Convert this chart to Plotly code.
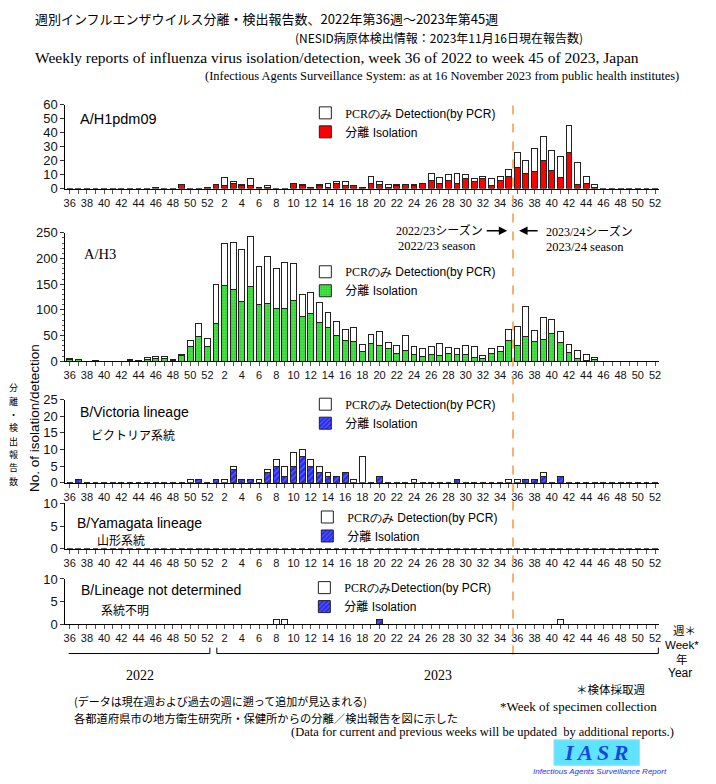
import plotly.graph_objects as go

W, H = 716, 784

# ---------------- categories ----------------
weeks_2022 = list(range(36, 53))
weeks_2023 = list(range(1, 53))
week_labels = [str(w) for w in weeks_2022 + weeks_2023]

# ---------------- data (reports per week) ----------------
# A/H1pdm09
h1_iso_2022 = [0, 0, 0, 0, 0, 0, 0, 0, 0, 0, 0, 0, 0, 3, 0, 0, 1]
h1_pcr_2022 = [0, 0, 0, 0, 0, 0, 0, 0, 0, 0, 1, 0, 0, 0, 0, 0, 0]
h1_iso_2023 = [3, 2, 4, 2, 2, 1, 1, 0, 0, 4, 2, 1, 2, 1, 4, 2, 2, 1, 4, 3,
               1, 2, 3, 2, 4, 6, 4, 6, 4, 7, 5, 7, 2, 6, 9, 15, 11, 12, 20, 13,
               8, 26, 3, 4, 1, 0, 0, 0, 0, 0, 0, 0]
h1_pcr_2023 = [0, 6, 1, 1, 5, 0, 1, 0, 0, 0, 1, 0, 1, 3, 1, 3, 0, 0, 5, 2,
               2, 1, 0, 1, 0, 5, 4, 4, 7, 3, 2, 2, 5, 3, 5, 11, 9, 17, 17, 14,
               15, 19, 16, 5, 2, 0, 0, 0, 0, 0, 0, 0]

# A/H3
h3_iso_2022 = [4, 4, 0, 1, 0, 0, 0, 2, 1, 3, 6, 6, 2, 12, 29, 48, 29]
h3_pcr_2022 = [1, 0, 0, 1, 0, 0, 0, 2, 1, 5, 4, 4, 2, 2, 12, 25, 15]
h3_iso_2023 = [74, 147, 139, 117, 145, 110, 112, 103, 102, 119,
               87, 92, 75, 66, 50, 40, 38, 19, 34, 31,
               25, 15, 21, 13, 10, 13, 11, 15, 13, 13,
               8, 6, 15, 18, 41, 31, 48, 38, 43, 54,
               36, 17, 6, 1, 3, 0, 0, 0, 0, 0, 0, 0]
h3_pcr_2023 = [75, 83, 93, 100, 97, 74, 91, 78, 90, 72,
               42, 42, 40, 28, 27, 21, 27, 14, 19, 27,
               11, 16, 29, 15, 14, 16, 23, 11, 12, 17,
               20, 5, 9, 11, 20, 36, 59, 22, 42, 28,
               21, 16, 15, 12, 5, 0, 0, 0, 0, 0, 0, 0]

# B/Victoria
vic_iso_2022 = [0, 1, 0, 0, 0, 0, 0, 0, 0, 0, 0, 0, 0, 0, 0, 1, 0]
vic_pcr_2022 = [0, 0, 0, 0, 0, 0, 0, 0, 0, 0, 0, 0, 0, 0, 1, 0, 0]
vic_iso_2023 = [1, 0, 4, 1, 1, 0, 3, 5, 2, 5, 8, 5, 3, 2, 2, 3, 0, 0, 0, 2,
                0, 0, 0, 0, 0, 0, 0, 0, 1, 0, 0, 0, 0, 0, 0, 0, 1, 1, 2, 0,
                2, 0, 0, 0, 0, 0, 0, 0, 0, 0, 0, 0]
vic_pcr_2023 = [0, 1, 1, 0, 0, 1, 1, 2, 3, 4, 2, 2, 2, 1, 0, 0, 1, 8, 0, 0,
                0, 0, 0, 1, 0, 0, 0, 0, 0, 0, 0, 0, 0, 0, 1, 1, 0, 0, 1, 0,
                0, 0, 0, 0, 0, 0, 0, 0, 0, 0, 0, 0]

# B/Yamagata
yam_iso_2022 = [0] * 17
yam_pcr_2022 = [0] * 17
yam_iso_2023 = [0] * 52
yam_pcr_2023 = [0] * 52

# B/Lineage not determined
nd_iso_2022 = [0] * 17
nd_pcr_2022 = [0] * 17
nd_iso_2023 = [0, 0, 0, 0, 0, 0, 0, 0, 0, 0, 0, 0, 0, 0, 0, 0, 0, 0, 0, 1,
               0, 0, 0, 0, 0, 0, 0, 0, 0, 0, 0, 0, 0, 0, 0, 0, 0, 0, 0, 0,
               0, 0, 0, 0, 0, 0, 0, 0, 0, 0, 0, 0]
nd_pcr_2023 = [0, 0, 0, 0, 0, 0, 0, 1, 1, 0, 0, 0, 0, 0, 0, 0, 0, 0, 0, 0,
               0, 0, 0, 0, 0, 0, 0, 0, 0, 0, 0, 0, 0, 0, 0, 0, 0, 0, 0, 0,
               1, 0, 0, 0, 0, 0, 0, 0, 0, 0, 0, 0]

# vertical Japanese axis title, one character per line
ytitle_jp = list("分離・検出報告数")

# ---------------- styling ----------------
SANS = "Liberation Sans, Noto Sans CJK JP, sans-serif"
SERIF = "Liberation Serif, Noto Sans CJK JP, serif"
JP = "Noto Sans CJK JP, sans-serif"
OUT = "#222222"
OFF = 8  # page body margin of the browser

xpos = list(range(len(week_labels)))
ticktext = [lab if i % 2 == 0 else "" for i, lab in enumerate(week_labels)]

def px_x(p):
    return (p - OFF) / W

def px_y(p):
    return 1 - (p - OFF) / H

X0_PX, X1_PX = 63.7, 661.0

pcr_lbl = '<span style="font-family:Liberation Serif">PCRのみ</span> Detection(by PCR)'
pcr_lbl2 = '<span style="font-family:Liberation Serif">PCRのみ</span>Detection(by PCR)'
blue = dict(color="#2a2af0", pattern=dict(shape="/", fgcolor="#9aa0ff", bgcolor="#2a2af0", size=4, solidity=0.3))

panels = [
    dict(iso=h1_iso_2022 + h1_iso_2023, pcr=h1_pcr_2022 + h1_pcr_2023,
         fill=dict(color="#ff0000"), zero=185, top=99.5, ymax=60, dtick=10, minor=None,
         leg=(305, 93), pcr_name=pcr_lbl, iso_name="分離 Isolation"),
    dict(iso=h3_iso_2022 + h3_iso_2023, pcr=h3_pcr_2022 + h3_pcr_2023,
         fill=dict(color="#44e844", pattern=dict(shape=".", fgcolor="#1f9a1f", bgcolor="#44e844", size=3, solidity=0.35)),
         zero=361, top=230, ymax=250, dtick=50, minor=10,
         leg=(305, 255), pcr_name=pcr_lbl, iso_name="分離 Isolation"),
    dict(iso=vic_iso_2022 + vic_iso_2023, pcr=vic_pcr_2022 + vic_pcr_2023,
         fill=blue, zero=485, top=400, ymax=25, dtick=5, minor=None,
         leg=(305, 390), pcr_name=pcr_lbl, iso_name="分離 Isolation"),
    dict(iso=yam_iso_2022 + yam_iso_2023, pcr=yam_pcr_2022 + yam_pcr_2023,
         fill=blue, zero=552, top=506, ymax=10, dtick=5, minor=None,
         leg=(307, 505), pcr_name=pcr_lbl, iso_name="分離 Isolation"),
    dict(iso=nd_iso_2022 + nd_iso_2023, pcr=nd_pcr_2022 + nd_pcr_2023,
         fill=blue, zero=629, top=583, ymax=10, dtick=5, minor=None,
         leg=(304, 577), pcr_name=pcr_lbl2, iso_name="分離 Isolation"),
]

fig = go.Figure()
layout = dict(
    width=W, height=H, margin=dict(l=0, r=0, t=0, b=0),
    paper_bgcolor="white", plot_bgcolor="rgba(0,0,0,0)",
    barmode="stack", bargap=0.3, showlegend=True,
    font=dict(family=SANS, color="black"),
)

for k, p in enumerate(panels, start=1):
    xa = "x" if k == 1 else f"x{k}"
    ya = "y" if k == 1 else f"y{k}"
    lk = "legend" if k == 1 else f"legend{k}"
    fig.add_trace(go.Bar(x=xpos, y=p["iso"], width=0.68, name=p["iso_name"],
                         marker=dict(line=dict(color=OUT, width=1), **p["fill"]),
                         xaxis=xa, yaxis=ya, legend=lk, hoverinfo="skip"))
    fig.add_trace(go.Bar(x=xpos, y=p["pcr"], width=0.68, name=p["pcr_name"],
                         marker=dict(color="white", line=dict(color=OUT, width=1)),
                         xaxis=xa, yaxis=ya, legend=lk, hoverinfo="skip"))
    xkey = "xaxis" if k == 1 else f"xaxis{k}"
    ykey = "yaxis" if k == 1 else f"yaxis{k}"
    layout[xkey] = dict(
        domain=[px_x(X0_PX), px_x(X1_PX)], range=[-0.5, len(week_labels) - 0.5],
        anchor=ya, tickmode="array", tickvals=xpos, ticktext=ticktext,
        ticks="outside", ticklen=4, tickwidth=1, tickcolor="#555",
        showline=True, linecolor="black", linewidth=1,
        showgrid=False, zeroline=False, tickangle=0,
        tickfont=dict(size=11, family=SANS, color="#111"), fixedrange=True,
    )
    yd = dict(
        domain=[px_y(p["zero"]), px_y(p["top"])], range=[0, p["ymax"]],
        anchor=xa, tickmode="linear", tick0=0, dtick=p["dtick"],
        ticks="outside", ticklen=4, tickwidth=1, tickcolor="#333",
        showline=True, linecolor="black", linewidth=1,
        showgrid=False, zeroline=False,
        tickfont=dict(size=13, family=SANS, color="#111"), fixedrange=True,
    )
    if p["minor"]:
        yd["minor"] = dict(ticks="outside", dtick=p["minor"], ticklen=2, tickcolor="#555")
    layout[ykey] = yd
    lx, ly = p["leg"]
    layout[lk] = dict(x=px_x(lx), y=px_y(ly), xanchor="left", yanchor="top",
                      bgcolor="rgba(0,0,0,0)", traceorder="reversed",
                      font=dict(size=12, family=SANS, color="black"),
                      itemclick=False, itemdoubleclick=False, tracegroupgap=0)

def ann(text, x, y, size, family=SANS, xanchor="left", yanchor="middle", color="black", **kw):
    return dict(text=text, x=px_x(x), y=px_y(y), xref="paper", yref="paper",
                xanchor=xanchor, yanchor=yanchor, showarrow=False,
                font=dict(size=size, family=family, color=color), **kw)

annotations = [
    # titles
    ann("週別インフルエンザウイルス分離・検出報告数、2022年第36週～2023年第45週", 31, 12, 13, JP),
    ann("(NESID病原体検出情報：2023年11月16日現在報告数)", 586, 31, 12, JP, xanchor="right"),
    ann("Weekly reports of influenza virus isolation/detection, week 36 of 2022 to week 45 of 2023, Japan",
        31, 51, 15.5, SERIF),
    ann("(Infectious Agents Surveillance System: as at 16 November 2023 from public health institutes)",
        683, 70, 12.5, SERIF, xanchor="right"),
    # panel labels
    ann("A/H1pdm09", 76, 114, 14.5, SANS),
    ann("A/H3", 80, 252, 14.5, SERIF),
    ann("B/Victoria lineage", 76, 413, 14, SANS),
    ann("ビクトリア系統", 87, 436, 12, JP),
    ann("B/Yamagata lineage", 73, 526, 14, SANS),
    ann("山形系統", 93, 543, 12, JP),
    ann("B/Lineage not determined", 77, 594, 14, SANS),
    ann("系統不明", 98, 614, 12, JP),
    # season notes
    ann("2022/23シーズン", 486, 228, 12, SERIF, xanchor="right"),
    ann("2022/23 season", 396, 244, 12.5, SERIF),
    ann("2023/24シーズン", 545, 229, 12, SERIF),
    ann("2023/24 season", 545, 245, 12.5, SERIF),
    # y axis title
    ann("No. of isolation/detection", 32, 419, 13.5, SANS, xanchor="center", textangle=-90),
    # right side labels
    ann("週＊", 686, 635, 11.5, JP, xanchor="center"),
    ann("Week*", 684, 650, 11.5, SANS, xanchor="center"),
    ann("年", 684, 665, 11.5, JP, xanchor="center"),
    ann("Year", 682, 679, 12, SANS, xanchor="center"),
    # years
    ann("2022", 139, 681, 14, SERIF, xanchor="center"),
    ann("2023", 438, 681, 14, SERIF, xanchor="center"),
    # notes
    ann("＊検体採取週", 612, 695, 11.5, JP, xanchor="center"),
    ann("*Week of specimen collection", 661, 713, 13, SERIF, xanchor="right"),
    ann("(データは現在週および過去の週に遡って追加が見込まれる)", 70, 707, 11, JP),
    ann("各都道府県市の地方衛生研究所・保健所からの分離／検出報告を図に示した", 70, 725, 11.3, JP),
    ann("(Data for current and previous weeks will be updated  by additional reports.)", 678, 739, 12.5,
        SERIF, xanchor="right"),
    # IASR logo
    ann("<b><i>I\u2009A\u2009S\u2009R</i></b>", 597.5, 760, 22, SERIF, xanchor="center", color="#1747e0"),
    ann("<i>Infectious Agents Surveillance Report</i>", 601, 779, 8, SANS, xanchor="center", color="#2233ee"),
]
# vertical Japanese axis title (one annotation per character)
for i, ch in enumerate(ytitle_jp):
    annotations.append(ann(ch, 12, 388 + i * 13.6, 9, JP, xanchor="center"))

# arrows for the season boundary
annotations.append(dict(x=px_x(508), y=px_y(228), xref="paper", yref="paper", text="",
                        showarrow=True, ax=-22, ay=0, arrowhead=2, arrowsize=1.2,
                        arrowwidth=1.4, arrowcolor="black", standoff=0, startstandoff=0))
annotations.append(dict(x=px_x(520), y=px_y(228), xref="paper", yref="paper", text="",
                        showarrow=True, ax=20, ay=0, arrowhead=2, arrowsize=1.2,
                        arrowwidth=1.4, arrowcolor="black", standoff=0, startstandoff=0))
layout["annotations"] = annotations

def pline(x0, y0, x1, y1, color="black", width=1, dash=None):
    return dict(type="line", xref="paper", yref="paper",
                x0=px_x(x0), y0=px_y(y0), x1=px_x(x1), y1=px_y(y1),
                line=dict(color=color, width=width, dash=dash))

BR = 659
shapes = [
    # season boundary (between week 35 and 36 of 2023)
    dict(type="line", xref="x", yref="paper", x0=51.5, x1=51.5,
         y0=px_y(660), y1=px_y(91), line=dict(color="#f5a043", width=1.6, dash="dash"), layer="above"),
    # year brackets
    pline(67, BR, 209, BR), pline(209, BR - 6, 209, BR),
    pline(216, BR, 660, BR), pline(216, BR - 6, 216, BR), pline(660, BR - 6, 660, BR),
    # IASR logo box
    dict(type="rect", xref="paper", yref="paper", x0=px_x(555), x1=px_x(641),
         y0=px_y(773), y1=px_y(747), fillcolor="#5fe3ff", line=dict(color="#9adfff", width=1), layer="below"),
]
layout["shapes"] = shapes

fig.update_layout(**layout)
fig.write_html("out.html")
